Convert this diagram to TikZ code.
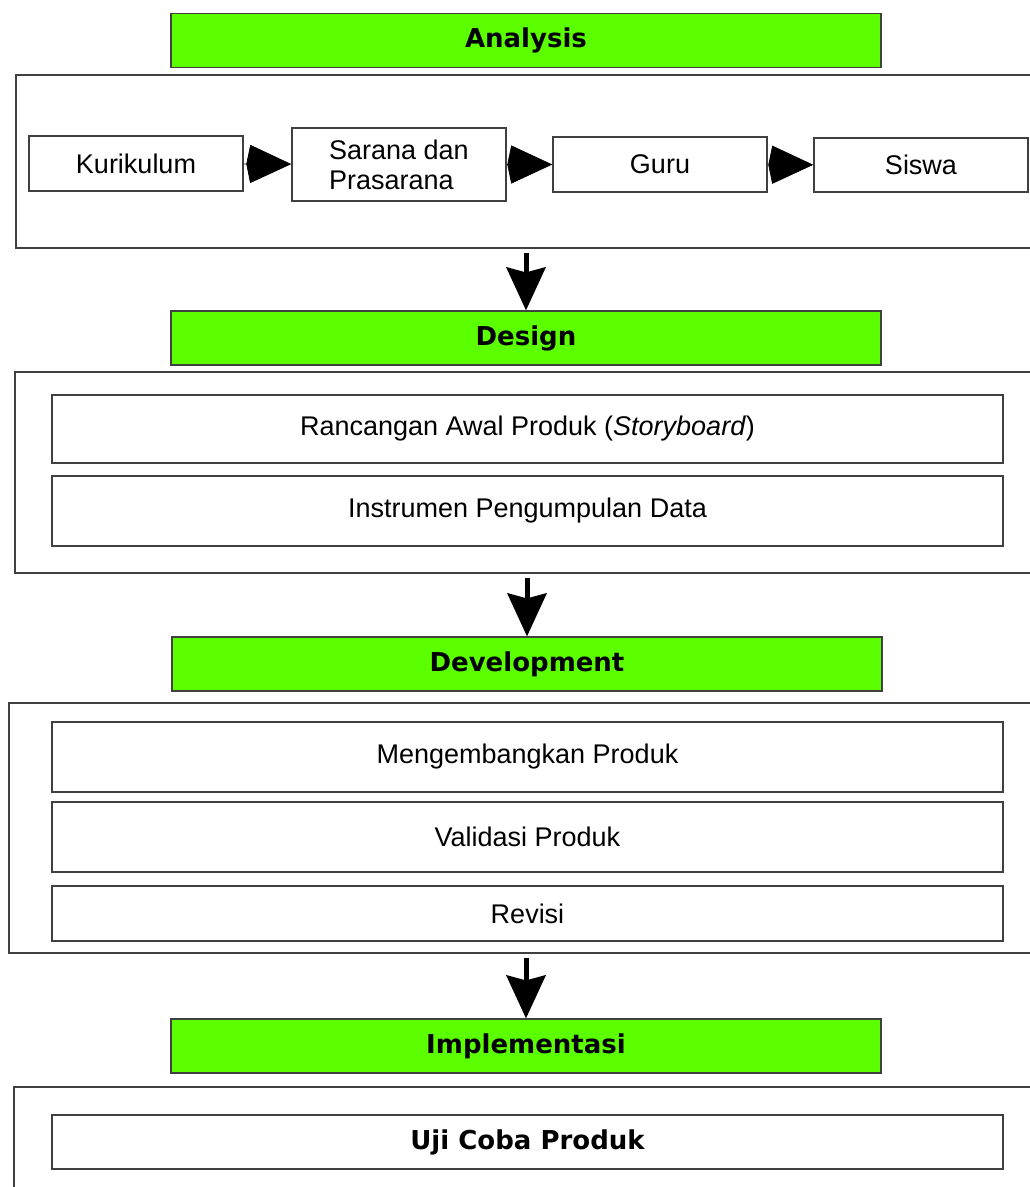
\documentclass[tikz,border=0pt]{standalone}
\usepackage{fontspec}
\setmainfont{Liberation Sans}
\newfontfamily\headfont{DejaVu Sans}
\usetikzlibrary{arrows.meta}
\definecolor{hijau}{RGB}{92,255,0}
\definecolor{garis}{RGB}{64,64,64}

\begin{document}
\begin{tikzpicture}[x=1pt,y=-1pt,line join=miter,
  header/.style={draw=garis,line width=1.2pt,fill=hijau,minimum width=710pt,minimum height=54pt,inner sep=0pt,
    font=\headfont\bfseries\fontsize{26}{26}\selectfont},
  frame/.style={draw=garis,line width=1.4pt,inner sep=0pt,minimum width=1026pt},
  item/.style={draw=garis,line width=1.4pt,inner sep=0pt,minimum width=951pt,font=\fontsize{27}{30}\selectfont},
  tahap/.style={draw=garis,line width=1.4pt,inner sep=0pt,minimum width=214pt,minimum height=55pt,
    align=left,font=\fontsize{27}{30}\selectfont},
  vflow/.style={line width=5pt,-{Stealth[length=43pt,width=39pt,inset=5pt]}},
  hflow/.style={line width=0.8pt,-{Stealth[length=41pt,width=38pt,inset=-4pt]}}]
  \useasboundingbox (0,0) rectangle (1030,1187);

  \coordinate (h1) at (526,40.5);
  \coordinate (h2) at (526,338);
  \coordinate (h3) at (527,664);
  \coordinate (h4) at (526,1046);

  % Analysis
  \node[header] (anhead) at (h1) {Analysis};
  \node[frame,minimum height=173pt] (anbox) at (529,161.5) {};
  \node[tahap] (kur) at (136,163.5) {Kurikulum};
  \node[tahap,minimum height=73pt] (sar) at (399,164.5) {Sarana dan\\Prasarana};
  \node[tahap] (guru) at (660,164.5) {Guru};
  \node[tahap,minimum height=54pt] (sis) at (921,165) {Siswa};
  \draw[hflow] (kur) -- (sar);
  \draw[hflow] (sar) -- (guru);
  \draw[hflow] (guru) -- (sis);

  % Design
  \node[header] (dshead) at (h2) {Design};
  \node[frame,minimum height=201pt] (dsbox) at (528,472.5) {};
  \node[item,minimum height=68pt] (ranc) at (527.5,429) {Rancangan Awal Produk (\textit{Storyboard})};
  \node[item,minimum height=70pt] (inst) at (527.5,511) {Instrumen Pengumpulan Data};
  \draw[vflow] (anbox.south -| dshead.north) ++(0,4) -- (dshead.north);

  % Development
  \node[header] (dvhead) at (h3) {Development};
  \node[frame,minimum height=250pt,minimum width=1034pt] (dvbox) at (526,828) {};
  \node[item,minimum height=70pt] (meng) at (527.5,757) {Mengembangkan Produk};
  \node[item,minimum height=70pt] (vali) at (527.5,837) {Validasi Produk};
  \node[item,minimum height=55pt] (revi) at (527.5,913.5) {Revisi};
  \draw[vflow] (dsbox.south -| dvhead.north) ++(0,4) -- (dvhead.north);

  % Implementasi
  \node[header] (imhead) at (h4) {Implementasi};
  \node[frame,minimum height=120pt] (imbox) at (527,1147) {};
  \node[item,minimum height=54pt,font=\headfont\bfseries\fontsize{26}{26}\selectfont] (uji) at (527.5,1142) {Uji Coba Produk};
  \draw[vflow] (dvbox.south -| imhead.north) ++(0,4) -- (imhead.north);

\end{tikzpicture}
\end{document}
